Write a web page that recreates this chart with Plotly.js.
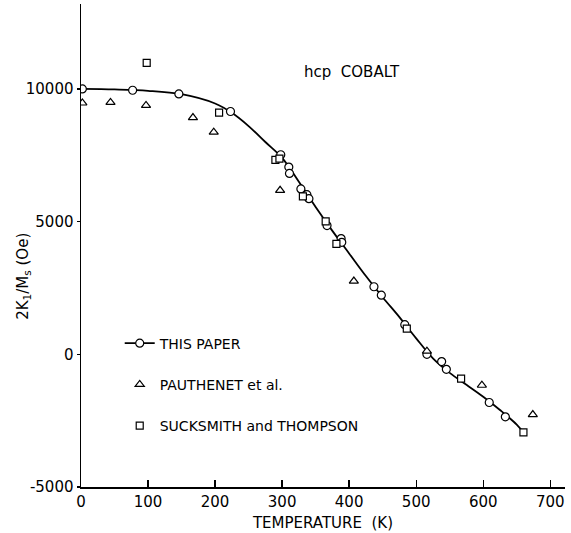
<!DOCTYPE html>
<html>
<head>
<meta charset="utf-8">
<script src="https://cdn.plot.ly/plotly-3.0.1.min.js"></script>
<style>html,body{margin:0;padding:0;background:#fff;}#chart{width:571px;height:533px;}</style>
</head>
<body>
<div id="chart"></div>
<script>
// THIS PAPER (circles)
const paperT = [2, 77, 146, 223, 298, 310, 311, 328, 337, 340, 367, 388, 389, 437, 448, 483, 516, 538, 545, 609, 633];
const paperV = [10000, 9950, 9810, 9150, 7520, 7055, 6815, 6230, 6015, 5865, 4850, 4360, 4220, 2545, 2230, 1115, 0, -275, -565, -1815, -2355];
// fitted curve through THIS PAPER data
const curveT = [2, 50, 100, 150, 200, 225, 250, 275, 300, 325, 350, 375, 400, 425, 450, 475, 500, 525, 550, 575, 600, 625, 650, 660];
const curveV = [10000, 9980, 9930, 9800, 9450, 9100, 8600, 8000, 7400, 6500, 5550, 4650, 3800, 2950, 2150, 1400, 600, -150, -700, -1150, -1600, -2100, -2650, -2950];
// PAUTHENET et al. (triangles)
const pauT = [2, 44, 97, 167, 198, 297, 407, 516, 598, 674];
const pauV = [9470, 9490, 9380, 8920, 8370, 6180, 2760, 120, -1165, -2270];
// SUCKSMITH and THOMPSON (squares)
const sucT = [98, 206, 290, 296, 331, 365, 381, 486, 567, 660];
const sucV = [10980, 9110, 7330, 7370, 5950, 5010, 4160, 965, -915, -2945];

const xTicks = [0, 100, 200, 300, 400, 500, 600, 700];
const yTicks = [-5000, 0, 5000, 10000];

const FONT = 'DejaVu Sans, Liberation Sans, sans-serif';
const mk = (sym, sz) => ({symbol: sym, size: sz, color: '#fff', line: {color: '#000', width: 1.2}});

const traces = [
  {x: curveT, y: curveV, mode: 'lines', line: {color: '#000', width: 1.8, shape: 'spline'},
   showlegend: false, hoverinfo: 'skip'},
  {x: paperT, y: paperV, mode: 'markers', name: 'THIS PAPER', legendgroup: 'a',
   marker: mk('circle', 8), showlegend: false},
  {x: [null], y: [null], mode: 'lines+markers', name: 'THIS PAPER', legendgroup: 'a',
   line: {color: '#000', width: 1.8}, marker: mk('circle', 8)},
  {x: pauT, y: pauV, mode: 'markers', name: 'PAUTHENET et al.', legendgroup: 'b',
   marker: mk('triangle-up', 8)},
  {x: sucT, y: sucV, mode: 'markers', name: 'SUCKSMITH and THOMPSON', legendgroup: 'c',
   marker: mk('square', 7)}
];

const layout = {
  width: 571, height: 533,
  margin: {l: 81, r: 6, t: 4, b: 46},
  paper_bgcolor: '#fff', plot_bgcolor: '#fff',
  font: {family: FONT, size: 14, color: '#000'},
  showlegend: true,
  legend: {x: 0.08, y: 0.33, xanchor: 'left', yanchor: 'top', bgcolor: 'rgba(0,0,0,0)',
    font: {family: FONT, size: 14, color: '#000'}, tracegroupgap: 20, traceorder: 'grouped',
    itemwidth: 30},
  xaxis: {
    range: [0, 722], tickvals: xTicks, ticktext: xTicks.map(String),
    showgrid: false, zeroline: false, showline: true, linecolor: '#000', linewidth: 1.5,
    ticks: 'inside', ticklen: 7, tickwidth: 1.3, tickcolor: '#000',
    tickfont: {family: FONT, size: 15},
    title: {text: 'TEMPERATURE  (K)', font: {family: FONT, size: 15}, standoff: 8}
  },
  yaxis: {
    range: [-5000, 13200], tickvals: yTicks, ticktext: yTicks.map(String),
    showgrid: false, zeroline: false, showline: true, linecolor: '#000', linewidth: 1.5,
    ticks: 'outside', ticklen: 3, tickwidth: 1.3, tickcolor: '#000',
    tickfont: {family: FONT, size: 15}
  },
  annotations: [
    {x: 404, y: 10640, xref: 'x', yref: 'y', text: 'hcp  COBALT', showarrow: false,
     font: {family: FONT, size: 15, color: '#000'}},
    {x: -0.118, y: 0.437, xref: 'paper', yref: 'paper', xanchor: 'center', yanchor: 'middle',
     text: '2K<sub>1</sub>/M<sub>s</sub> (Oe)',
     textangle: -90, showarrow: false, font: {family: FONT, size: 15, color: '#000'}}
  ]
};

Plotly.newPlot('chart', traces, layout, {displayModeBar: false, staticPlot: true});
</script>
</body>
</html>
